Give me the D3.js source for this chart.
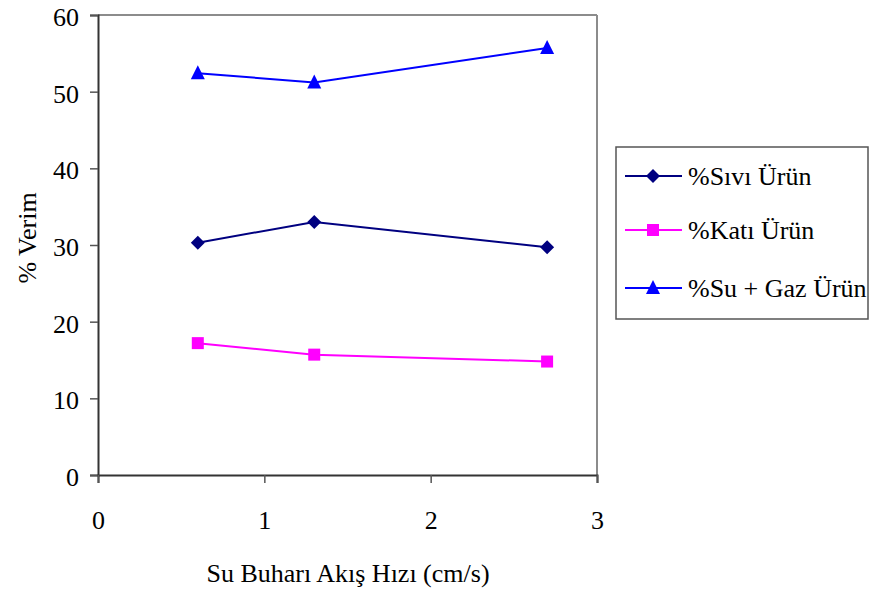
<!DOCTYPE html>
<html><head><meta charset="utf-8">
<script src="https://cdn.jsdelivr.net/npm/d3@7"></script>
<style>body{margin:0;background:#fff}</style>
</head><body><svg id="c" width="872" height="598"></svg>
<script>
const xValues = [0.6, 1.3, 2.7];
const sivi = [30.3, 33.0, 29.7];
const kati = [17.2, 15.7, 14.8];
const suGaz = [52.4, 51.2, 55.7];
const seriesNames = ["%Sıvı Ürün", "%Katı Ürün", "%Su + Gaz Ürün"];
const seriesColors = ["#000080", "#ff00ff", "#0000ff"];
const seriesShapes = ["diamond", "square", "triangle"];
const xTicks = [0, 1, 2, 3];
const yTicks = [0, 10, 20, 30, 40, 50, 60];
const xTitle = "Su Buharı Akış Hızı (cm/s)";
const yTitle = "% Verim";

const FONT = "'Liberation Serif', 'Times New Roman', Times, serif";
const svg = d3.select("#c");
const L = 98, R = 597, T = 15, B = 475;
const x = d3.scaleLinear().domain([0, 3]).range([L, R]);
const y = d3.scaleLinear().domain([0, 60]).range([B, T]);

svg.append("line").attr("x1", L).attr("x2", R).attr("y1", T).attr("y2", T).attr("stroke", "#8c8c8c").attr("stroke-width", 2);
svg.append("line").attr("x1", R).attr("x2", R).attr("y1", T).attr("y2", B).attr("stroke", "#8c8c8c").attr("stroke-width", 2);

const yAxis = svg.append("g").attr("transform", `translate(${L},0)`)
  .call(d3.axisLeft(y).tickValues(yTicks).tickSize(8).tickPadding(11).tickFormat(d3.format("d")));
const xAxis = svg.append("g").attr("transform", `translate(0,${B})`)
  .call(d3.axisBottom(x).tickValues(xTicks).tickSize(8).tickPadding(28).tickFormat(d3.format("d")));
[yAxis, xAxis].forEach(g => {
  g.attr("font-family", FONT).attr("font-size", 26);
  g.select(".domain").attr("stroke", "#333").attr("stroke-width", 2);
  g.selectAll(".tick line").attr("stroke", "#555").attr("stroke-width", 1.5);
  g.selectAll("text").style("font-family", FONT).style("font-size", "26px").attr("fill", "#000");
});
yAxis.selectAll("text").attr("dy", "0.4em");

svg.append("text").attr("x", 348).attr("y", 582).attr("text-anchor", "middle")
  .style("font-family", FONT).style("font-size", "26px").text(xTitle);
svg.append("text").attr("transform", "translate(36,238) rotate(-90)").attr("text-anchor", "middle")
  .style("font-family", FONT).style("font-size", "26px").text(yTitle);

const data = [sivi, kati, suGaz];
function marker(g, shape, color, cx, cy) {
  if (shape === "diamond") {
    g.append("path").attr("d", `M${cx},${cy-7}L${cx+7},${cy}L${cx},${cy+7}L${cx-7},${cy}Z`).attr("fill", color);
  } else if (shape === "square") {
    g.append("rect").attr("x", cx-6).attr("y", cy-6).attr("width", 12).attr("height", 12).attr("fill", color);
  } else {
    g.append("path").attr("d", `M${cx},${cy-8}L${cx+7},${cy+6}L${cx-7},${cy+6}Z`).attr("fill", color);
  }
}
const line = d3.line().x((d, i) => x(xValues[i])).y(d => y(d));
data.forEach((vals, s) => {
  const g = svg.append("g");
  g.append("path").datum(vals).attr("d", line).attr("fill", "none").attr("stroke", seriesColors[s]).attr("stroke-width", 2);
  vals.forEach((v, i) => marker(g, seriesShapes[s], seriesColors[s], x(xValues[i]), y(v)));
});

const lg = svg.append("g");
lg.append("rect").attr("x", 616).attr("y", 147).attr("width", 252).attr("height", 172)
  .attr("fill", "#fff").attr("stroke", "#555").attr("stroke-width", 1.5);
const ly = [176, 230, 288];
seriesNames.forEach((n, s) => {
  lg.append("line").attr("x1", 625).attr("x2", 682).attr("y1", ly[s]).attr("y2", ly[s]).attr("stroke", seriesColors[s]).attr("stroke-width", 2);
  marker(lg, seriesShapes[s], seriesColors[s], 653, ly[s]);
  lg.append("text").attr("x", 688).attr("y", ly[s] + 9).style("font-family", FONT).style("font-size", "26px").text(n);
});
</script></body></html>
